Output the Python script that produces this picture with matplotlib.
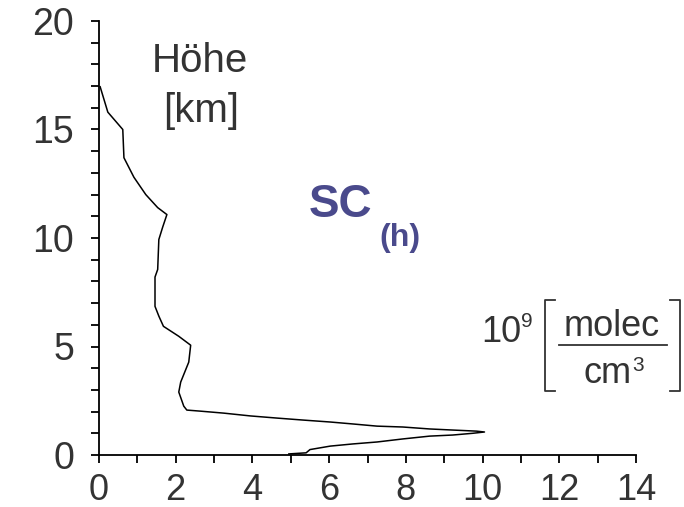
import matplotlib
matplotlib.use("Agg")
import matplotlib.pyplot as plt
from matplotlib.lines import Line2D

plt.rcParams['font.family'] = ['Liberation Sans', 'DejaVu Sans']

# vertical profile (bottom to top)
conc = [4.95, 5.4, 5.5, 6.03, 6.62, 7.25, 7.92, 8.62, 9.22, 9.74, 10.05, 9.84,
        9.22, 8.62, 7.92, 7.25, 6.62, 6.03, 5.32, 4.65, 3.95, 3.25, 2.65, 2.29,
        2.21, 2.08, 2.13, 2.34, 2.39, 2.08, 1.68, 1.56, 1.46, 1.46, 1.53, 1.56,
        1.66, 1.77, 1.53, 1.22, 0.91, 0.65, 0.62, 0.23, 0.03]
alt = [0.05, 0.1, 0.25, 0.41, 0.51, 0.6, 0.74, 0.87, 0.92, 1.0, 1.06, 1.1,
       1.15, 1.2, 1.29, 1.33, 1.43, 1.52, 1.61, 1.7, 1.8, 1.93, 2.02, 2.07,
       2.25, 2.9, 3.36, 4.28, 5.06, 5.47, 5.93, 6.4, 6.85, 8.2, 8.55, 9.93,
       10.5, 11.08, 11.4, 12.0, 12.8, 13.7, 15.0, 15.8, 16.97]

xticks = [0, 2, 4, 6, 8, 10, 12, 14]
yticks = [0, 5, 10, 15, 20]

W, H = 684, 507
fig = plt.figure(figsize=(W / 100, H / 100), dpi=100)
ax = fig.add_axes([99 / W, 1 - 455 / H, (636 - 99) / W, (455 - 21) / H])

ax.plot(conc, alt, color='black', lw=1.1)
ax.set_xlim(0, 14)
ax.set_ylim(0, 20)

for s in ['top', 'right']:
    ax.spines[s].set_visible(False)
for s in ['left', 'bottom']:
    ax.spines[s].set_linewidth(1.3)

ax.set_xticks(xticks)
ax.set_xticks(range(0, 15), minor=True)
ax.set_yticks(yticks)
ax.set_yticks(range(0, 21), minor=True)
ax.tick_params(which='both', direction='out', length=6, width=1.3, color='black')
ax.tick_params(axis='x', which='major', pad=7, labelsize=26, labelcolor='#333333')
ax.tick_params(axis='y', which='major', pad=12, labelsize=27, labelcolor='#333333')


def fx(px):
    return px / W


def fy(py):
    return 1 - py / H


grey = '#333333'
fig.text(fx(200), fy(72), 'Höhe', fontsize=29, color=grey, ha='center', va='baseline')
fig.text(fx(201), fy(122), '[km]', fontsize=29, color=grey, ha='center', va='baseline')

blue = '#4a4a8c'
fig.text(fx(309), fy(217), 'SC', fontsize=33, color=blue, fontweight='bold', va='baseline')
fig.text(fx(379), fy(246), '(h)', fontsize=23, color=blue, fontweight='bold', va='baseline')

# unit label
fig.text(fx(481), fy(342), '10', fontsize=26, color=grey, va='baseline')
fig.text(fx(521), fy(327), '9', fontsize=15, color=grey, va='baseline')
fig.text(fx(612), fy(336), 'molec', fontsize=26, color=grey, ha='center', va='baseline')
fig.text(fx(608), fy(383), 'cm', fontsize=26, color=grey, ha='center', va='baseline')
fig.text(fx(632), fy(371), '3', fontsize=15, color=grey, va='baseline')

lk = dict(color=grey, lw=1.3, transform=fig.transFigure)
fig.add_artist(Line2D([fx(559), fx(667)], [fy(345), fy(345)], **lk))
fig.add_artist(Line2D([fx(555), fx(545), fx(545), fx(555)],
                      [fy(300), fy(300), fy(391), fy(391)], **lk))
fig.add_artist(Line2D([fx(670), fx(680), fx(680), fx(670)],
                      [fy(300), fy(300), fy(391), fy(391)], **lk))

fig.savefig('out.png', dpi=100)
